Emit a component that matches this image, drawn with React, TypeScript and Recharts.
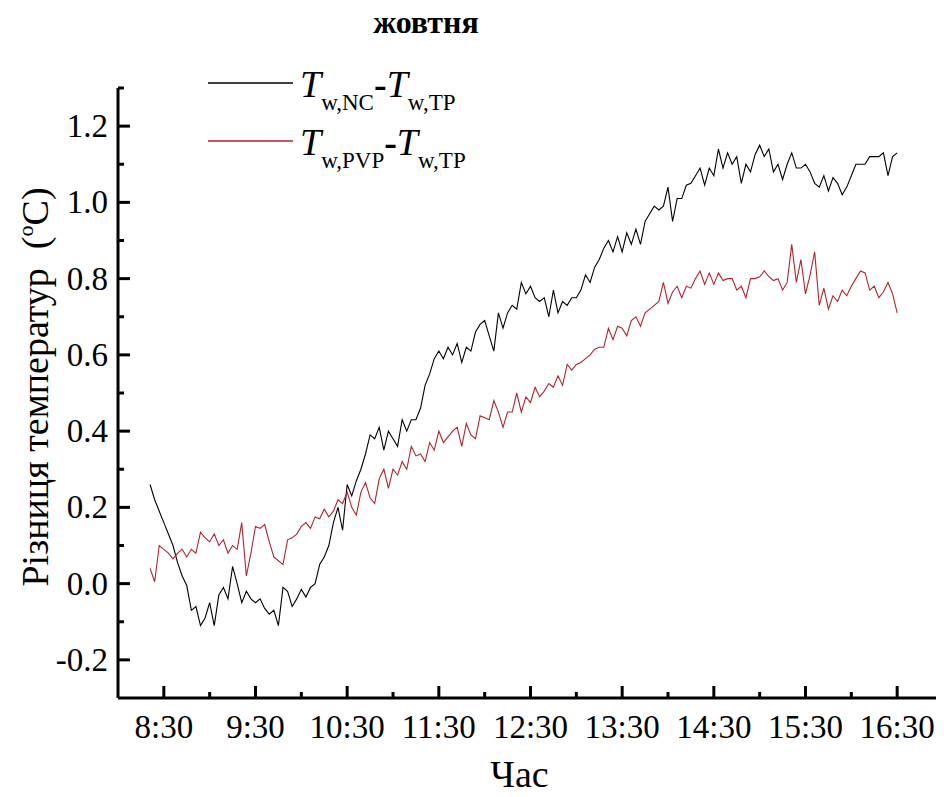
import React from 'react';
import { LineChart, Line, XAxis, YAxis, Legend } from 'recharts';

// Logging starts at 8:21 and samples every 3 minutes.
const START_MIN = 501;
const STEP_MIN = 3;

// T w,NC - T w,TP (°C)
const NC_MINUS_TP = [
  0.26, 0.22, 0.19, 0.16, 0.13, 0.10, 0.055, 0.02, -0.005, -0.07,
  -0.06, -0.11, -0.09, -0.05, -0.11, -0.03, -0.01, -0.04, 0.045, 0.0,
  -0.05, -0.02, -0.04, -0.05, -0.04, -0.065, -0.08, -0.07, -0.11, -0.01,
  -0.02, -0.06, -0.04, -0.015, -0.035, -0.01, 0.0, 0.05, 0.07, 0.10,
  0.16, 0.20, 0.14, 0.26, 0.23, 0.27, 0.30, 0.34, 0.39, 0.38,
  0.41, 0.35, 0.40, 0.38, 0.36, 0.43, 0.40, 0.43, 0.43, 0.46,
  0.52, 0.55, 0.59, 0.61, 0.59, 0.62, 0.60, 0.63, 0.58, 0.62,
  0.61, 0.66, 0.68, 0.69, 0.65, 0.61, 0.71, 0.67, 0.71, 0.73,
  0.72, 0.79, 0.76, 0.78, 0.75, 0.74, 0.75, 0.70, 0.77, 0.71,
  0.74, 0.73, 0.75, 0.75, 0.77, 0.81, 0.79, 0.83, 0.85, 0.88,
  0.90, 0.87, 0.91, 0.87, 0.92, 0.89, 0.93, 0.89, 0.95, 0.97,
  0.99, 0.98, 0.99, 1.04, 0.95, 1.01, 1.01, 1.045, 1.05, 1.07,
  1.09, 1.045, 1.09, 1.07, 1.14, 1.09, 1.13, 1.10, 1.12, 1.05,
  1.10, 1.08, 1.125, 1.15, 1.12, 1.14, 1.08, 1.10, 1.06, 1.10,
  1.13, 1.09, 1.09, 1.10, 1.08, 1.05, 1.04, 1.07, 1.03, 1.065,
  1.05, 1.02, 1.04, 1.07, 1.10, 1.10, 1.10, 1.12, 1.12, 1.12,
  1.13, 1.07, 1.12, 1.13,
];

// T w,PVP - T w,TP (°C)
const PVP_MINUS_TP = [
  0.04, 0.005, 0.10, 0.09, 0.08, 0.065, 0.08, 0.09, 0.07, 0.09,
  0.08, 0.135, 0.12, 0.11, 0.13, 0.10, 0.115, 0.08, 0.10, 0.09,
  0.16, 0.02, 0.08, 0.15, 0.145, 0.155, 0.11, 0.07, 0.06, 0.05,
  0.115, 0.12, 0.13, 0.15, 0.16, 0.145, 0.175, 0.17, 0.195, 0.175,
  0.19, 0.22, 0.21, 0.24, 0.20, 0.18, 0.24, 0.265, 0.225, 0.21,
  0.275, 0.30, 0.25, 0.30, 0.285, 0.32, 0.30, 0.36, 0.335, 0.34,
  0.32, 0.37, 0.35, 0.40, 0.37, 0.385, 0.40, 0.41, 0.36, 0.42,
  0.39, 0.38, 0.44, 0.435, 0.43, 0.48, 0.45, 0.41, 0.45, 0.45,
  0.50, 0.45, 0.49, 0.475, 0.515, 0.49, 0.505, 0.525, 0.515, 0.545,
  0.52, 0.575, 0.56, 0.575, 0.58, 0.59, 0.60, 0.615, 0.62, 0.62,
  0.67, 0.64, 0.675, 0.67, 0.65, 0.69, 0.70, 0.675, 0.71, 0.72,
  0.73, 0.74, 0.79, 0.735, 0.765, 0.78, 0.75, 0.78, 0.775, 0.80,
  0.82, 0.785, 0.815, 0.785, 0.815, 0.795, 0.80, 0.80, 0.77, 0.78,
  0.75, 0.80, 0.80, 0.805, 0.82, 0.805, 0.795, 0.80, 0.77, 0.79,
  0.89, 0.79, 0.85, 0.76, 0.81, 0.87, 0.73, 0.775, 0.72, 0.755,
  0.74, 0.77, 0.755, 0.78, 0.80, 0.82, 0.815, 0.77, 0.78, 0.75,
  0.765, 0.79, 0.76, 0.71,
];

// Axis ticks (x in minutes since midnight)
const X_MAJOR_TICKS = [510, 570, 630, 690, 750, 810, 870, 930, 990];
const X_MINOR_TICKS = [540, 600, 660, 720, 780, 840, 900, 960, 1020];
const Y_MAJOR_TICKS = [-0.2, 0.0, 0.2, 0.4, 0.6, 0.8, 1.0, 1.2];
const Y_MINOR_TICKS = [-0.1, 0.1, 0.3, 0.5, 0.7, 0.9, 1.1, 1.3];

const SERIES_KEYS = ['nc', 'pvp'];
const SERIES_NAMES = ['Tw,NC-Tw,TP', 'Tw,PVP-Tw,TP'];
const SERIES_COLORS = ['#000000', '#b3232e'];
// Legend text pieces: [main, subscript, dash, main, subscript]
const LEGEND_PARTS = [
  ['T', 'w,NC', '-', 'T', 'w,TP'],
  ['T', 'w,PVP', '-', 'T', 'w,TP'],
];

const TITLE = 'жовтня';
const X_TITLE = 'Час';
const Y_TITLE_MAIN = 'Різниця температур  (';
const Y_TITLE_SUP = 'o';
const Y_TITLE_END = 'C)';

const FONT = '"Liberation Serif", "Times New Roman", serif';

const data = NC_MINUS_TP.map((v, i) => ({
  t: START_MIN + i * STEP_MIN,
  nc: v,
  pvp: PVP_MINUS_TP[i],
}));

const isIn = (list: number[], v: number) => list.some((m) => Math.abs(m - v) < 1e-6);

const fmtTime = (m: number) => {
  const h = Math.floor(m / 60);
  const mm = m % 60;
  return `${h}:${mm < 10 ? '0' : ''}${mm}`;
};

const XTick = (props: any) => {
  const { x, y, payload } = props;
  const v = payload.value as number;
  const major = isIn(X_MAJOR_TICKS, v);
  return (
    <g>
      <line x1={x} x2={x} y1={y} y2={y - (major ? 12 : 6)} stroke="#000" strokeWidth={3} />
      {major && (
        <text x={x} y={y + 40} textAnchor="middle" fontSize={33} fontFamily={FONT} fill="#000">
          {fmtTime(v)}
        </text>
      )}
    </g>
  );
};

const YTick = (props: any) => {
  const { x, y, payload } = props;
  const v = payload.value as number;
  const major = isIn(Y_MAJOR_TICKS, v);
  return (
    <g>
      <line x1={x} x2={x + (major ? 12 : 6)} y1={y} y2={y} stroke="#000" strokeWidth={3} />
      {major && (
        <text x={x - 10} y={y + 11} textAnchor="end" fontSize={33} fontFamily={FONT} fill="#000">
          {v.toFixed(1)}
        </text>
      )}
    </g>
  );
};

const YTitle = (props: any) => {
  const vb = props.viewBox || { x: 0, y: 0, width: 0, height: 0 };
  const cx = vb.x - 10;
  const cy = vb.y + vb.height / 2 - 6;
  return (
    <text
      x={cx}
      y={cy}
      transform={`rotate(-90 ${cx} ${cy})`}
      textAnchor="middle"
      fontSize={38}
      fontFamily={FONT}
      fill="#000"
      style={{ whiteSpace: 'pre' }}
    >
      <tspan>{Y_TITLE_MAIN}</tspan>
      <tspan fontSize={22} dy={-15}>{Y_TITLE_SUP}</tspan>
      <tspan dy={15}>{Y_TITLE_END}</tspan>
    </text>
  );
};

const XTitle = (props: any) => {
  const vb = props.viewBox || { x: 0, y: 0, width: 0, height: 0 };
  return (
    <text
      x={vb.x + vb.width / 2 - 11}
      y={vb.y + 89}
      textAnchor="middle"
      fontSize={38}
      fontFamily={FONT}
      fill="#000"
    >
      {X_TITLE}
    </text>
  );
};

const LegendBox = (props: any) => {
  const payload = props.payload || [];
  return (
    <svg width={330} height={130} style={{ display: 'block', overflow: 'visible' }}>
      {payload.map((entry: any, i: number) => {
        const parts = LEGEND_PARTS[i];
        const ly = 28 + i * 58;
        return (
          <g key={i}>
            <line x1={8} x2={93} y1={ly} y2={ly} stroke={entry.color} strokeWidth={1.5} />
            <text x={100} y={ly + 14} fontFamily={FONT} fill="#000">
              <tspan fontSize={38} fontStyle="italic">{parts[0]}</tspan>
              <tspan fontSize={23} dy={13}>{parts[1]}</tspan>
              <tspan fontSize={38} fontWeight="bold" dy={-13}>{parts[2]}</tspan>
              <tspan fontSize={38} fontStyle="italic">{parts[3]}</tspan>
              <tspan fontSize={23} dy={13}>{parts[4]}</tspan>
            </text>
          </g>
        );
      })}
    </svg>
  );
};

export default function App() {
  return (
    <div style={{ position: 'relative', width: 936, height: 789 }}>
      <LineChart
        width={936}
        height={789}
        data={data}
        margin={{ top: 80, right: 1, bottom: 39, left: 50 }}
        style={{ overflow: 'visible' }}
      >
        <XAxis
          dataKey="t"
          type="number"
          domain={[480, 1020]}
          ticks={[...X_MAJOR_TICKS, ...X_MINOR_TICKS].sort((a, b) => a - b)}
          interval={0}
          height={60}
          tickLine={false}
          tickSize={0}
          tickMargin={0}
          axisLine={{ stroke: '#000', strokeWidth: 3 }}
          tick={<XTick />}
          label={<XTitle />}
          allowDataOverflow
        />
        <YAxis
          type="number"
          domain={[-0.3, 1.3]}
          ticks={[...Y_MAJOR_TICKS, ...Y_MINOR_TICKS].sort((a, b) => a - b)}
          interval={0}
          width={60}
          tickLine={false}
          tickSize={0}
          tickMargin={0}
          axisLine={{ stroke: '#000', strokeWidth: 3 }}
          tick={<YTick />}
          label={<YTitle />}
          allowDataOverflow
        />
        <Legend
          layout="vertical"
          verticalAlign="middle"
          align="center"
          content={<LegendBox />}
          wrapperStyle={{ position: 'absolute', left: 192, top: 47, width: 330, height: 130 }}
        />
        {SERIES_KEYS.map((k, i) => (
          <Line
            key={k}
            dataKey={k}
            name={SERIES_NAMES[i]}
            stroke={SERIES_COLORS[i]}
            strokeWidth={1.1}
            dot={false}
            activeDot={false}
            isAnimationActive={false}
          />
        ))}
      </LineChart>
      <svg
        width={936}
        height={60}
        style={{ position: 'absolute', left: 0, top: -8, pointerEvents: 'none', overflow: 'visible' }}
      >
        <text x={418} y={33} textAnchor="middle" fontSize={32} fontWeight="bold" fontFamily={FONT} fill="#000">
          {TITLE}
        </text>
      </svg>
    </div>
  );
}
